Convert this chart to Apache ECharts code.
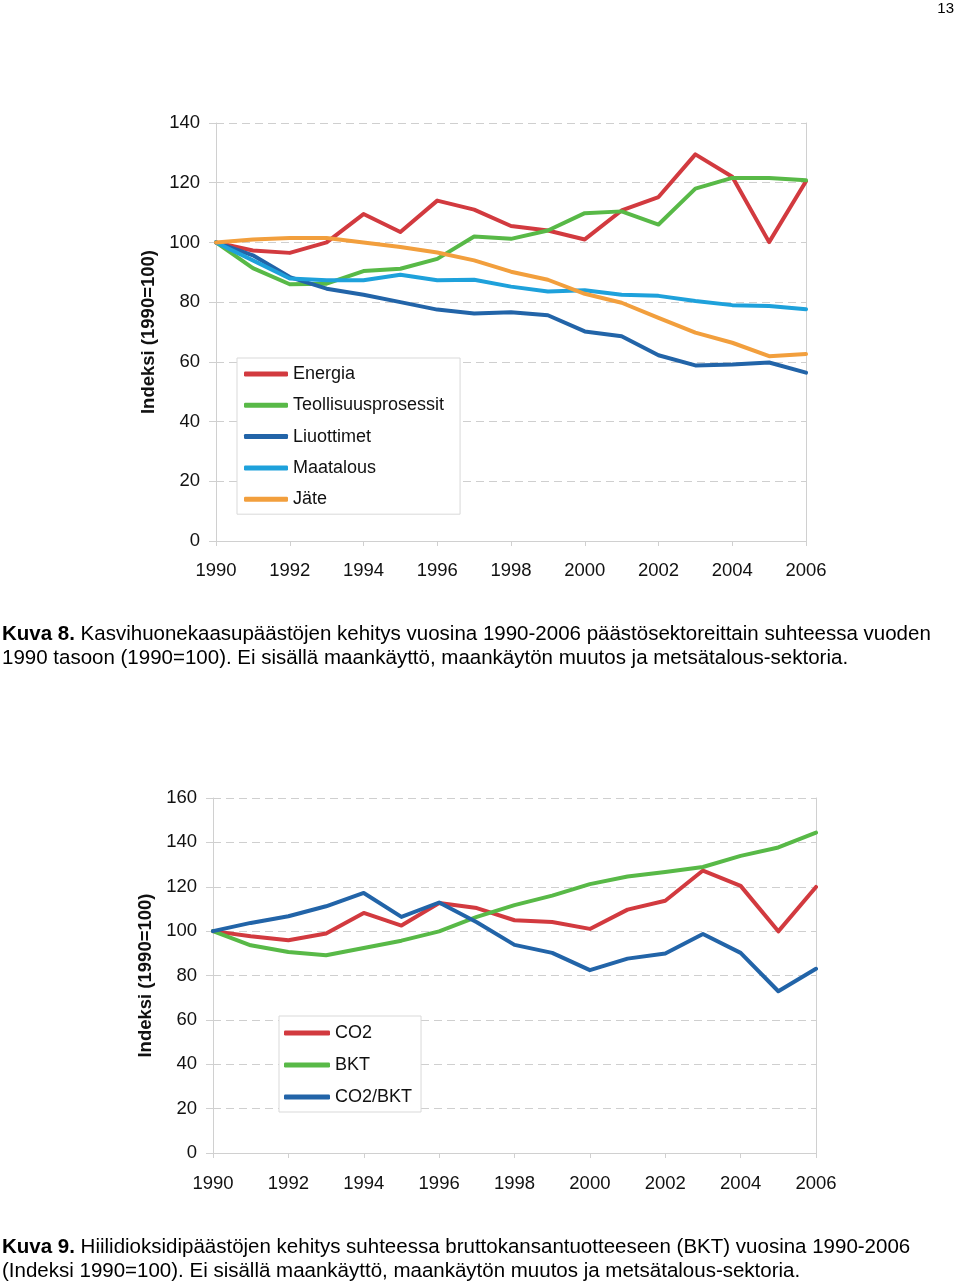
<!DOCTYPE html>
<html>
<head>
<meta charset="utf-8">
<script src="https://cdn.jsdelivr.net/npm/echarts@6/dist/echarts.min.js"></script>
<style>
html,body{margin:0;padding:0;background:#fff;}
#c{width:960px;height:1283px;}
</style>
</head>
<body>
<div id="c"></div>
<script>
var years = ['1990','1991','1992','1993','1994','1995','1996','1997','1998','1999','2000','2001','2002','2003','2004','2005','2006'];

// Chart 1 (Kuva 8)
var energia     = [100, 97.3, 96.5, 100, 109.5, 103.5, 114, 111, 105.5, 104, 101, 110.7, 115.2, 129.5, 122, 100.1, 120.5];
var teollisuus  = [100, 91.4, 86, 86.2, 90.4, 91.2, 94.5, 102, 101.2, 104, 109.8, 110.4, 106, 118, 121.6, 121.6, 120.8];
var liuottimet  = [100, 95.7, 88.4, 84.5, 82.5, 80, 77.5, 76.2, 76.6, 75.6, 70.2, 68.6, 62.2, 58.8, 59.1, 59.8, 56.4];
var maatalous   = [100, 94, 87.9, 87.3, 87.3, 89.2, 87.3, 87.5, 85.2, 83.6, 84, 82.5, 82.1, 80.4, 79, 78.7, 77.6];
var jate        = [100, 101, 101.5, 101.5, 100, 98.5, 96.6, 94, 90.2, 87.5, 82.8, 79.8, 74.7, 69.8, 66.4, 61.9, 62.6];
var names1 = ['Energia','Teollisuusprosessit','Liuottimet','Maatalous','Jäte'];

// Chart 2 (Kuva 9)
var co2    = [100, 97.7, 95.9, 98.9, 108.2, 102.5, 112.7, 110.4, 104.9, 104.1, 101, 109.7, 113.7, 127.3, 120.4, 99.9, 119.9];
var bkt    = [100, 93.6, 90.6, 89.1, 92.4, 95.7, 99.9, 106.4, 111.7, 116, 121.2, 124.6, 126.6, 128.9, 133.9, 137.7, 144.4];
var co2bkt = [100, 103.7, 106.7, 111.2, 117.2, 106.4, 112.9, 104, 93.8, 90.2, 82.4, 87.6, 89.9, 98.7, 90.2, 72.9, 83];
var names2 = ['CO2','BKT','CO2/BKT'];

var yAxisName = 'Indeksi (1990=100)';
var caption1a = 'Kasvihuonekaasupäästöjen kehitys vuosina 1990-2006 päästösektoreittain suhteessa vuoden';
var caption1b = '1990 tasoon (1990=100). Ei sisällä maankäyttö, maankäytön muutos ja metsätalous-sektoria.';
var caption2a = 'Hiilidioksidipäästöjen kehitys suhteessa bruttokansantuotteeseen (BKT) vuosina 1990-2006';
var caption2b = '(Indeksi 1990=100). Ei sisällä maankäyttö, maankäytön muutos ja metsätalous-sektoria.';

var FONT = '"Liberation Sans", Arial, Helvetica, sans-serif';
var C = { red:'#d23a3f', green:'#58b947', dblue:'#2264a8', lblue:'#1ea1db', orange:'#f29f3d' };
var AX = '#d0d0d0';

function xAxisCfg(gi, margin){
  return {
    type:'category', gridIndex:gi, data:years, boundaryGap:false,
    axisLine:{show:true, lineStyle:{color:AX, width:1}},
    axisTick:{show:true, interval:1, length:5, lineStyle:{color:AX}},
    axisLabel:{interval:1, color:'#111', fontSize:18.5, fontFamily:FONT, margin:margin},
    splitLine:{show:false}
  };
}
function yAxisCfg(gi, max){
  return {
    type:'value', gridIndex:gi, min:0, max:max, interval:20,
    name:yAxisName, nameLocation:'middle', nameGap:58, nameRotate:90,
    nameTextStyle:{fontSize:18.5, fontWeight:'bold', fontFamily:FONT, color:'#111'},
    axisLine:{show:true, lineStyle:{color:AX, width:1}},
    axisTick:{show:true, length:7, lineStyle:{color:AX}},
    axisLabel:{color:'#111', fontSize:18.5, fontFamily:FONT, margin:16},
    splitLine:{show:true, lineStyle:{color:'#cfcfcf', type:[8,5], width:1}}
  };
}
function yRightCfg(gi, max){
  return {
    type:'value', gridIndex:gi, min:0, max:max, interval:20, position:'right',
    axisLine:{show:true, lineStyle:{color:AX, width:1}},
    axisTick:{show:false}, axisLabel:{show:false}, splitLine:{show:false}
  };
}
function line(name, data, color, xi, yi){
  return {
    name:name, type:'line', xAxisIndex:xi, yAxisIndex:yi, data:data,
    symbol:'none', smooth:false, silent:true,
    lineStyle:{color:color, width:4, cap:'round', join:'round'},
    itemStyle:{color:color}
  };
}
function captionText(top, bold, rest){
  return {
    type:'text', left:2, top:top,
    style:{
      text: bold ? ('{b|' + bold + '} ' + rest) : rest,
      fontSize:20.5, fontFamily:FONT, fill:'#000',
      rich:{ b:{ fontWeight:'bold', fontSize:20.5, fontFamily:FONT, fill:'#000' } }
    }
  };
}

var chart = echarts.init(document.getElementById('c'), null, {renderer:'canvas'});
chart.setOption({
  animation:false,
  backgroundColor:'#fff',
  grid:[
    {left:216, top:123, width:590, height:418},
    {left:213, top:798, width:603, height:355}
  ],
  xAxis:[ xAxisCfg(0, 20), xAxisCfg(1, 21) ],
  yAxis:[ yAxisCfg(0,140), yAxisCfg(1,160), yRightCfg(0,140), yRightCfg(1,160) ],
  legend:[
    {
      data:names1, orient:'vertical', left:237, top:358,
      icon:'roundRect', itemWidth:44, itemHeight:5, itemGap:11.3,
      padding:[6,16,5,7],
      borderColor:'#d9d9d9', borderWidth:1, backgroundColor:'#fff',
      selectedMode:false,
      textStyle:{fontSize:18, fontFamily:FONT, color:'#111', lineHeight:20}
    },
    {
      data:names2, orient:'vertical', left:279, top:1016,
      icon:'roundRect', itemWidth:46, itemHeight:5, itemGap:12,
      padding:[7,9,5,5],
      borderColor:'#d9d9d9', borderWidth:1, backgroundColor:'#fff',
      selectedMode:false,
      textStyle:{fontSize:18, fontFamily:FONT, color:'#111', lineHeight:20}
    }
  ],
  series:[
    line(names1[0], energia, C.red, 0, 0),
    line(names1[1], teollisuus, C.green, 0, 0),
    line(names1[2], liuottimet, C.dblue, 0, 0),
    line(names1[3], maatalous, C.lblue, 0, 0),
    line(names1[4], jate, C.orange, 0, 0),
    line(names2[0], co2, C.red, 1, 1),
    line(names2[1], bkt, C.green, 1, 1),
    line(names2[2], co2bkt, C.dblue, 1, 1)
  ],
  graphic:[
    {type:'text', right:6, top:1, style:{text:'13', fontSize:15, fontFamily:FONT, fill:'#000'}},
    captionText(624, 'Kuva 8.', caption1a),
    captionText(648, null, caption1b),
    captionText(1237, 'Kuva 9.', caption2a),
    captionText(1261, null, caption2b)
  ]
});
</script>
</body>
</html>
